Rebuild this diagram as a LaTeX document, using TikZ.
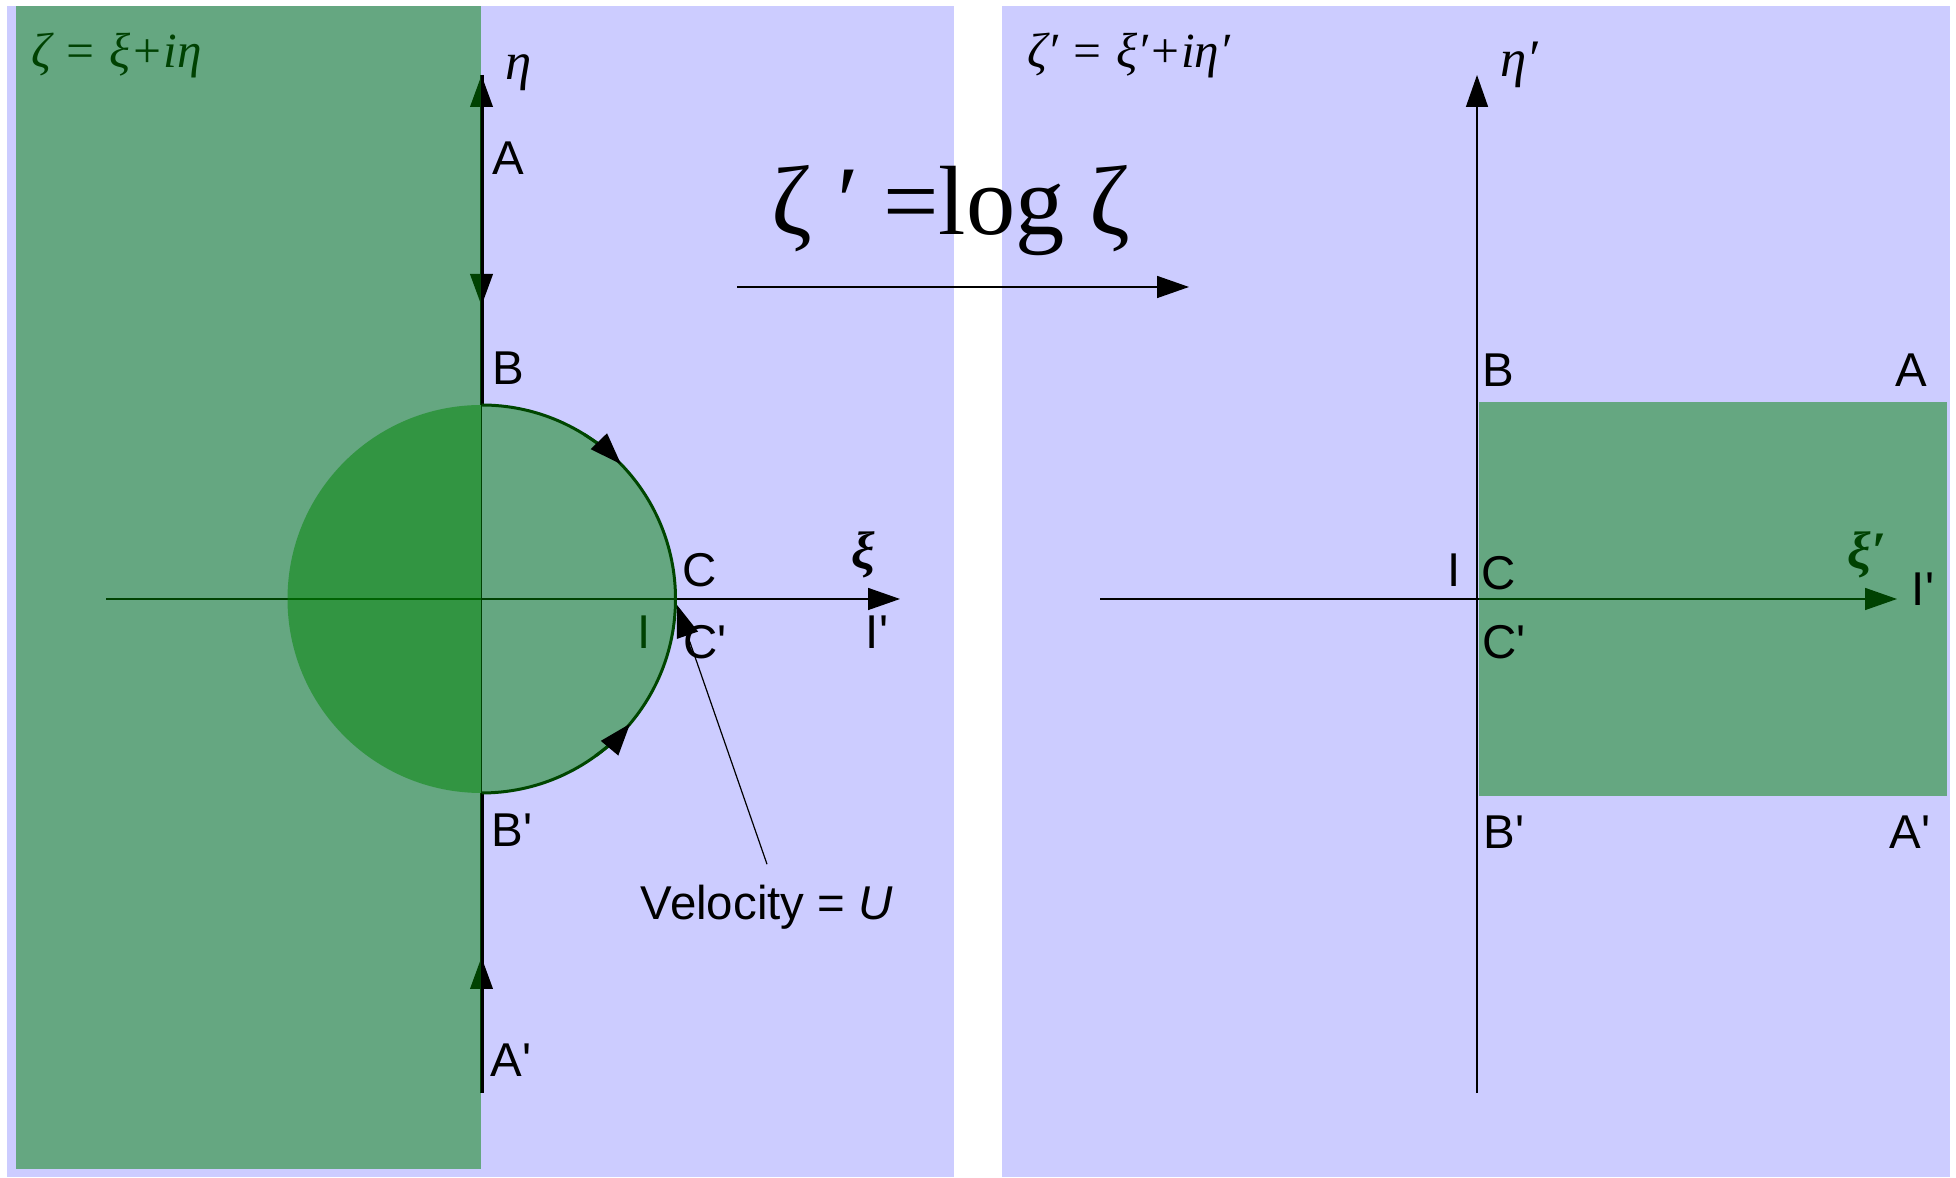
\documentclass[tikz,border=0pt]{standalone}
\usepackage{fontspec}
\setmainfont{Liberation Serif}
\setsansfont{Liberation Sans}
\usetikzlibrary{arrows.meta}
\definecolor{panelblue}{RGB}{204,204,255}
\definecolor{kgreen}{RGB}{0,132,5}
\definecolor{arcgreen}{RGB}{0,70,0}
\newcommand{\kprime}{\textquotesingle}
\tikzset{
  kpanel/.style={fill=panelblue, draw=none},
  kregion/.style={fill=kgreen, fill opacity=0.5, draw=none},
  klabel/.style={font=\sffamily\fontsize{13.5}{16}\selectfont, inner sep=0pt},
  kgreek/.style={font=\fontsize{15}{18}\selectfont\itshape, inner sep=0pt},
  kbgreek/.style={font=\fontsize{15}{18}\selectfont\bfseries\itshape, inner sep=0pt},
  keqn/.style={font=\fontsize{14}{17}\selectfont\itshape, inner sep=0pt, anchor=base west},
  ktip/.style={-{Triangle[length=3.2mm, width=2.2mm]}},
  kaxis/.style={ktip, line width=0.15mm},
  kwall/.style={line width=0.4mm},
  karc/.style={line width=0.3mm, draw=arcgreen},
  flow/.style={karc, -{Triangle[length=3.2mm, width=2.2mm, color=black]}},
}

\begin{document}
\begin{tikzpicture}[x=0.1mm, y=0.1mm]
    \useasboundingbox (0,0) rectangle (1956,-1178);
    \fill[white] (0,0) rectangle (1956,-1178);
    \fill[kpanel] (7,-6) rectangle (954,-1177);
    \fill[kpanel] (1002,-6) rectangle (1950,-1177);

    \coordinate (O) at (481.5,-599);
    \coordinate (etaTop) at (481.5,-75);
    \coordinate (etaBot) at (481.5,-1093);
    \coordinate (wB) at (481.5,-405);
    \coordinate (wBp) at (481.5,-793);
    \coordinate (wA) at (481.5,-306);
    \coordinate (wAp) at (481.5,-957);
    \coordinate (xiL) at (106,-599);
    \coordinate (xiR) at (900,-599);
    \coordinate (Cv) at (677,-605);
    \coordinate (etapTop) at (1477,-75);
    \coordinate (etapBot) at (1477,-1093);
    \coordinate (xipL) at (1100,-599);
    \coordinate (xipR) at (1897,-599);
    \coordinate (mapL) at (737,-287);
    \coordinate (mapR) at (1189,-287);

    \node[keqn] (zeta) at (31,-68) {ζ = ξ+iη};
    \draw[kaxis] (xiL) -- (xiR);
    \draw[line width=0.15mm] (wB) -- (wBp);
    \draw[kwall, ktip] (wB) -- (etaTop);
    \draw[kwall, ktip] (etaTop) -- (wA);
    \draw[kwall] (wBp) -- (etaBot);
    \draw[kwall, ktip] (etaBot) -- (wAp);
    \node[klabel] (lI) at (644,-632) {I};

    \draw[kaxis] (xipL) -- (xipR);
    \draw[kaxis] (etapBot) -- (etapTop);
    \node[kbgreek] (lxip) at (1867,-555) {ξ′};

    \fill[kregion] (16,-6) rectangle (481,-1169);
    \fill[kregion] (O) circle [radius=19.4mm];
    \fill[kregion] (1479,-402) rectangle (1947,-796);

    \draw[karc] (wB) arc [start angle=90, end angle=-90, radius=19.4mm];
    \draw[flow] (O) ++(58:19.4mm) arc [start angle=58, end angle=44, radius=19.4mm];
    \draw[flow] (O) ++(-54:19.4mm) arc [start angle=-54, end angle=-40, radius=19.4mm];

    \node[kgreek] (leta) at (519,-73) {η};
    \node[klabel] (lA) at (508,-158) {A};
    \node[klabel] (lB) at (508,-368) {B};
    \node[klabel] (lBp) at (512,-830) {B\kprime};
    \node[klabel] (lAp) at (511,-1060) {A\kprime};
    \node[klabel] (lC) at (700,-570) {C};
    \node[klabel] (lCp) at (705,-642) {C\kprime};
    \node[kbgreek] (lxi) at (863,-555) {ξ};
    \node[klabel] (lIp) at (877,-632) {I\kprime};
    \node[klabel] (vel) at (767,-907) {Velocity = \textit{U}};
    \draw[line width=0.12mm, ktip] ([yshift=2mm]vel.north) -- (Cv);

    \node[font=\fontsize{28}{32}\selectfont, inner sep=0pt, anchor=base] (map) at (951,-235) {ζ ′ =log ζ};
    \draw[line width=0.15mm, ktip] (mapL) -- (mapR);

    \node[keqn, anchor=base west] (zetap) at (1027,-68) {ζ′ = ξ′+iη′};
    \node[kgreek] (letap) at (1519,-65) {η′};
    \node[klabel] (rB) at (1498,-370) {B};
    \node[klabel] (rA) at (1911,-370) {A};
    \node[klabel] (rI) at (1454,-570) {I};
    \node[klabel] (rC) at (1499,-573) {C};
    \node[klabel] (rIp) at (1923,-589) {I\kprime};
    \node[klabel] (rCp) at (1504,-642) {C\kprime};
    \node[klabel] (rBp) at (1504,-832) {B\kprime};
    \node[klabel] (rAp) at (1910,-832) {A\kprime};
  \end{tikzpicture}
\end{document}
